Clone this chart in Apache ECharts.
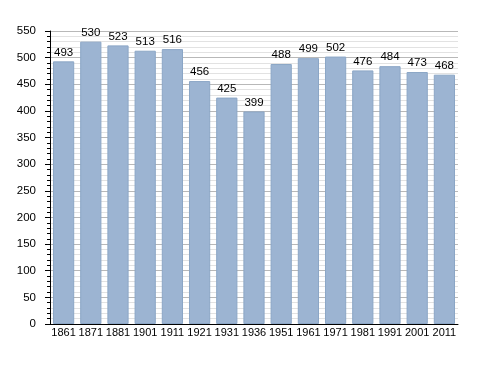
<!DOCTYPE html>
<html><head><meta charset="utf-8">
<script src="https://cdn.jsdelivr.net/npm/echarts@6/dist/echarts.min.js"></script>
<style>html,body{margin:0;padding:0;background:#fff}#c{width:488px;height:373px}</style>
</head><body><div id="c"></div>
<script>
const years = ["1861","1871","1881","1901","1911","1921","1931","1936","1951","1961","1971","1981","1991","2001","2011"];
const population = [493,530,523,513,516,456,425,399,488,499,502,476,484,473,468];
const chart = echarts.init(document.getElementById('c'), null, {renderer:'canvas'});
chart.setOption({
  animation:false,
  backgroundColor:'#fff',
  grid:{left:50,right:30,top:31,bottom:49,containLabel:false},
  xAxis:{type:'category',data:years,
    axisLine:{lineStyle:{color:'#000',width:1}},
    axisTick:{show:false},
    axisLabel:{color:'#000',fontFamily:'Liberation Sans, Arial',fontSize:11,margin:3,interval:0},
    splitLine:{show:false}},
  yAxis:{type:'value',min:0,max:550,interval:50,
    axisLine:{show:true,lineStyle:{color:'#000',width:1}},
    axisTick:{show:true,length:5,inside:false,lineStyle:{color:'#000'}},
    minorTick:{show:true,splitNumber:5,length:3,lineStyle:{color:'#000'}},
    axisLabel:{color:'#000',fontFamily:'Liberation Sans, Arial',fontSize:11.5,margin:14},
    splitLine:{show:true,lineStyle:{color:'#b8b8b8',width:1}},
    minorSplitLine:{show:true,lineStyle:{color:'#e2e2e2',width:1}}},
  series:[{type:'bar',data:population,barCategoryGap:'22%',
    itemStyle:{color:'#9cb4d2',borderColor:'#8ba6c6',borderWidth:1},
    label:{show:true,position:'top',distance:3,color:'#000',fontFamily:'Liberation Sans, Arial',fontSize:11.5}}]
});
</script></body></html>
